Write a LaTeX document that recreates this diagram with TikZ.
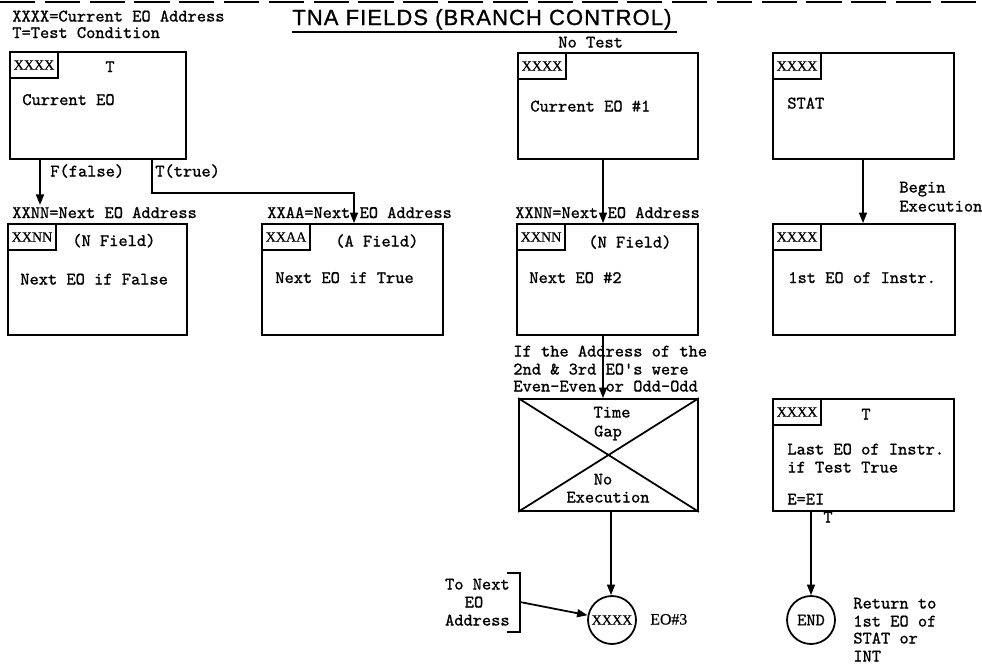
\documentclass[tikz,border=0pt]{standalone}
\usepackage{fontspec}
\usetikzlibrary{arrows.meta}
\newfontfamily\tmono{lmmono10-regular.otf}[FakeBold=1]
\newfontfamily\lserif{Liberation Serif}[FakeBold=0.6]
\newfontfamily\lsans{Liberation Sans}[LetterSpace=5,FakeBold=1]
\begin{document}
\begin{tikzpicture}[x=0.02cm,y=-0.02cm,
  box/.style={draw,line width=1pt,inner sep=0,rectangle},
  tagbox/.style={draw,line width=1pt,inner sep=0,minimum width=0.96cm,minimum height=0.52cm,anchor=north west,font=\lserif\fontsize{8}{9}\selectfont},
  lbl/.style={inner sep=0,anchor=base west,font=\tmono\fontsize{10}{11}\selectfont},
  arr/.style={line width=1pt,-{Triangle[length=6pt,width=4.5pt]}},
  ln/.style={line width=1pt},
  circ/.style={draw,circle,line width=1pt,inner sep=0,minimum size=0.96cm}]
\useasboundingbox (0,0) rectangle (982,666);
% top cut border
\draw[line width=1.7pt,dash pattern=on 20pt off 5.5pt] (0,2) -- (982,2);
% title
\node[inner sep=0,anchor=base west,font=\lsans\fontsize{12.5}{14}\selectfont] (title) at (292,25) {TNA FIELDS (BRANCH CONTROL)};
\draw[line width=1.2pt] (292,32) -- (677,32);
% legend
\node[lbl] (leg1) at (12,21.5) {XXXX=Current EO Address};
\node[lbl] (leg2) at (12,38) {T=Test Condition};

% boxes
\node[box,minimum width=3.52cm,minimum height=2.14cm] (b1) at (98,105.5) {};
\node[box,minimum width=3.58cm,minimum height=2.22cm] (b2) at (97.5,279.5) {};
\node[box,minimum width=3.62cm,minimum height=2.22cm] (b3) at (352.5,279.5) {};
\node[box,minimum width=3.60cm,minimum height=2.12cm] (b4) at (608,106) {};
\node[box,minimum width=3.62cm,minimum height=2.22cm] (b5) at (607.5,279.5) {};
\node[box,minimum width=3.58cm,minimum height=2.24cm] (bx) at (608.5,455) {};
\node[box,minimum width=3.62cm,minimum height=2.12cm] (b6) at (863.5,106) {};
\node[box,minimum width=3.64cm,minimum height=2.22cm] (b7) at (864,279.5) {};
\node[box,minimum width=3.62cm,minimum height=2.24cm] (b8) at (863.5,455) {};
\draw[ln] (bx.north west) -- (bx.south east) (bx.south west) -- (bx.north east);

% tags
\node[tagbox] (t1) at (b1.north west) {XXXX};
\node[tagbox] (t2) at (b2.north west) {XXNN};
\node[tagbox] (t3) at (b3.north west) {XXAA};
\node[tagbox] (t4) at (b4.north west) {XXXX};
\node[tagbox] (t5) at (b5.north west) {XXNN};
\node[tagbox] (t6) at (b6.north west) {XXXX};
\node[tagbox] (t7) at (b7.north west) {XXXX};
\node[tagbox] (t8) at (b8.north west) {XXXX};

% circles
\node[circ,font=\lserif\fontsize{8}{9}\selectfont] (c1) at (612,620) {XXXX};
\node[circ,font=\tmono\fontsize{10}{11}\selectfont] (c2) at (811,620) {END};

% texts box 1
\node[lbl,anchor=base] (b1t) at (110,72) {T};
\node[lbl] (b1m) at (22,105) {Current EO};
\node[lbl] (fl) at (50,176.5) {F(false)};
\node[lbl] (tl) at (155,176.5) {T(true)};
% box 2
\node[lbl] (a2) at (12,218) {XXNN=Next EO Address};
\node[lbl] (b2f) at (72,246) {(N Field)};
\node[lbl] (b2m) at (20,284.5) {Next EO if False};
% box 3
\node[lbl] (a3) at (267,218) {XXAA=Next EO Address};
\node[lbl] (b3f) at (335,246.5) {(A Field)};
\node[lbl] (b3m) at (275,283) {Next EO if True};
% middle column
\node[lbl] (nt) at (558,47.5) {No Test};
\node[lbl] (b4m) at (530,111.5) {Current EO \#1};
\node[lbl] (a5) at (515,218) {XXNN=Next EO Address};
\node[lbl] (b5f) at (588,247.5) {(N Field)};
\node[lbl] (b5m) at (529,283) {Next EO \#2};
\node[lbl] (if1) at (513,356.5) {If the Address of the};
\node[lbl] (if2) at (513,374.5) {2nd \& 3rd EO's were};
\node[lbl] (if3) at (513,391.5) {Even-Even or Odd-Odd};
\node[lbl,anchor=base] (tg1) at (612,417.5) {Time};
\node[lbl,anchor=base] (tg2) at (608,436.5) {Gap};
\node[lbl,anchor=base] (ne1) at (603,484.5) {No};
\node[lbl,anchor=base] (ne2) at (608,502.5) {Execution};
\node[lbl,anchor=base east] (tn1) at (510,589.5) {To Next};
\node[lbl,anchor=base] (tn2) at (474,607.5) {EO};
\node[lbl,anchor=base east] (tn3) at (510,625.5) {Address};
\node[inner sep=0,anchor=base west,font=\lserif\fontsize{9}{10}\selectfont] (eo3) at (650,624.5) {EO\#3};
% right column
\node[lbl] (b6m) at (787,108.5) {STAT};
\node[lbl] (be1) at (899,192.5) {Begin};
\node[lbl] (be2) at (899,211.5) {Execution};
\node[lbl] (b7m) at (788,283) {1st EO of Instr.};
\node[lbl,anchor=base] (b8t) at (866,419.5) {T};
\node[lbl] (b8m1) at (787,454.5) {Last EO of Instr.};
\node[lbl] (b8m2) at (787,472.5) {if Test True};
\node[lbl] (b8m3) at (787,504.5) {E=EI};
\node[lbl,anchor=base] (tt) at (828,522.5) {T};
\node[lbl] (r1) at (853,608.5) {Return to};
\node[lbl] (r2) at (853,626.5) {1st EO of};
\node[lbl] (r3) at (853,643.5) {STAT or};
\node[lbl] (r4) at (853,661.5) {INT};

% connectors
\coordinate (fA) at (40,205);
\draw[arr] (b1.south -| fA) -- (fA);
\coordinate (tA) at (152,193);
\coordinate (tB) at (354,0);
\draw[arr] (b1.south -| tA) -- (tA) -| (b3.north -| tB);
\coordinate (mA) at (603,0);
\draw[arr] (b4.south -| mA) -- (b5.north -| mA);
\draw[arr] (b5.south -| mA) -- (bx.north -| mA);
\coordinate (mB) at (611,0);
\draw[arr] (bx.south -| mB) -- (c1.north -| mB);
\coordinate (rA) at (863,0);
\draw[arr] (b6.south -| rA) -- (b7.north -| rA);
\coordinate (rB) at (811,0);
\draw[arr] (b8.south -| rB) -- (c2.north);
% bracket
\coordinate (brT) at (520,573);
\coordinate (brB) at (520,632);
\coordinate (br) at (520,602);
\draw[ln] (507,573) -- (brT) -- (brB) -- (507,632);
\draw[arr] (br) -- (c1);
\end{tikzpicture}
\end{document}
